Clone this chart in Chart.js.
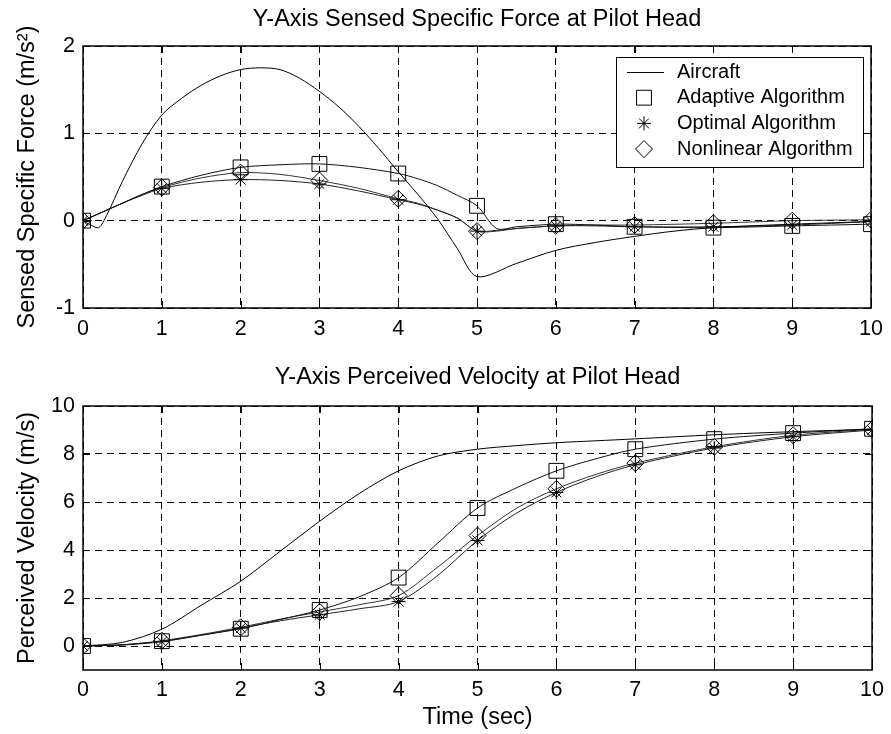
<!DOCTYPE html>
<html>
<head>
<meta charset="utf-8">
<title>Pilot Head</title>
<script src="https://cdn.jsdelivr.net/npm/chart.js@4.4.1/dist/chart.umd.min.js"></script>
<style>
  body { margin: 0; background: #fff; }
  canvas { display: block; }
</style>
</head>
<body>
<canvas id="fuerza" width="891" height="360"></canvas>
<canvas id="velocidad" width="891" height="374"></canvas>
<script>
// values
const etiquetas = ['Aircraft', 'Adaptive Algorithm', 'Optimal Algorithm', 'Nonlinear Algorithm'];
const ticksTiempo = [0, 1, 2, 3, 4, 5, 6, 7, 8, 9, 10];
const ticksFuerza = [-1, 0, 1, 2];
const ticksVelocidad = [0, 2, 4, 6, 8, 10];

// top plot: sensed specific force (m/s^2)
const tAvionFuerza = [0, 0.1, 0.2, 0.3, 0.5, 0.75, 1, 1.25, 1.5, 1.75, 2, 2.25, 2.5, 2.75, 3, 3.25, 3.5, 3.75, 4, 4.25, 4.5, 4.75, 5, 5.5, 6, 6.5, 7, 7.5, 8, 9, 10];
const avionFuerza = [0, -0.05, -0.08, 0.06, 0.45, 0.88, 1.21, 1.4, 1.55, 1.66, 1.73, 1.75, 1.73, 1.63, 1.48, 1.3, 1.08, 0.83, 0.56, 0.3, 0.02, -0.32, -0.64, -0.49, -0.34, -0.25, -0.18, -0.12, -0.08, -0.04, -0.01];
const tAlgFuerza = [0, 0.25, 0.5, 0.75, 1, 1.5, 2, 2.5, 3, 3.5, 4, 4.25, 4.5, 4.75, 5, 5.25, 5.5, 6, 6.5, 7, 8, 9, 10];
const adaptivoFuerza = [0, 0.1, 0.2, 0.3, 0.39, 0.52, 0.61, 0.64, 0.65, 0.61, 0.54, 0.48, 0.4, 0.29, 0.17, -0.09, -0.07, -0.04, -0.05, -0.07, -0.08, -0.06, -0.04];
const optimoFuerza = [0, 0.1, 0.2, 0.29, 0.37, 0.44, 0.47, 0.46, 0.42, 0.34, 0.24, 0.19, 0.12, 0.03, -0.12, -0.11, -0.09, -0.06, -0.06, -0.07, -0.07, -0.05, -0.01];
const nolinealFuerza = [0, 0.1, 0.2, 0.3, 0.38, 0.49, 0.55, 0.53, 0.46, 0.37, 0.25, 0.2, 0.12, 0.03, -0.12, -0.12, -0.09, -0.06, -0.05, -0.05, -0.03, 0.0, 0.01];

// bottom plot: perceived velocity (m/s)
const tVelocidad = [0, 0.5, 1, 1.5, 2, 2.5, 3, 3.5, 4, 4.5, 5, 5.5, 6, 6.5, 7, 8, 9, 10];
const avionVel = [0, 0.15, 0.7, 1.7, 2.7, 3.95, 5.2, 6.35, 7.3, 7.92, 8.2, 8.35, 8.47, 8.55, 8.63, 8.8, 8.93, 9.03];
const adaptivoVel = [0, 0.05, 0.2, 0.45, 0.72, 1.1, 1.5, 2.05, 2.85, 4.3, 5.75, 6.6, 7.3, 7.8, 8.2, 8.62, 8.87, 9.05];
const optimoVel = [0, 0.04, 0.18, 0.45, 0.75, 1.05, 1.3, 1.55, 1.85, 2.95, 4.4, 5.55, 6.4, 7.05, 7.55, 8.25, 8.72, 9.0];
const nolinealVel = [0, 0.05, 0.22, 0.48, 0.78, 1.12, 1.42, 1.72, 2.1, 3.3, 4.6, 5.75, 6.55, 7.15, 7.62, 8.3, 8.78, 9.03];

const fuente = '"Liberation Sans", Arial, sans-serif';
Chart.defaults.font.family = fuente;
Chart.defaults.color = '#000';

const estilos = [
  { pointStyle: 'circle', radio: 0, color: '#000' },
  { pointStyle: 'rect', radio: 10.5, color: '#111' },
  { pointStyle: 'star', radio: 7, color: '#222' },
  { pointStyle: 'rectRot', radio: 8.5, color: '#333' }
];

function serie(tiempos, valores) {
  return tiempos.map(function (t, i) {
    return { x: t, y: valores[i] };
  });
}

function armarDatasets(lista) {
  return lista.map(function (datos, i) {
    const e = estilos[i];
    return {
      label: etiquetas[i],
      data: datos,
      borderColor: e.color,
      borderWidth: 1,
      tension: 0.3,
      pointStyle: e.pointStyle,
      radioMarca: e.radio,
      pointRadius: function (c) {
        return Number.isInteger(c.raw.x) ? e.radio : 0;
      },
      pointBorderColor: '#000',
      pointBorderWidth: 1,
      pointBackgroundColor: 'rgba(0,0,0,0)'
    };
  });
}

// box round the axes and inward tick marks
const marco = {
  id: 'marco',
  afterDatasetsDraw(chart) {
    const ctx = chart.ctx;
    const a = chart.chartArea;
    const sx = chart.scales.x, sy = chart.scales.y;
    ctx.save();
    ctx.strokeStyle = '#000';
    ctx.lineWidth = 1;
    ctx.beginPath();
    sx.ticks.forEach(function (t) {
      const px = Math.round(sx.getPixelForValue(t.value)) + 0.5;
      ctx.moveTo(px, a.bottom); ctx.lineTo(px, a.bottom - 7);
      ctx.moveTo(px, a.top); ctx.lineTo(px, a.top + 7);
    });
    sy.ticks.forEach(function (t) {
      const py = Math.round(sy.getPixelForValue(t.value)) + 0.5;
      ctx.moveTo(a.left, py); ctx.lineTo(a.left + 7, py);
      ctx.moveTo(a.right, py); ctx.lineTo(a.right - 7, py);
    });
    ctx.stroke();
    ctx.lineWidth = 1.5;
    ctx.strokeRect(a.left, a.top, a.right - a.left, a.bottom - a.top);
    ctx.restore();
  }
};

// legend box in the top plot
const leyenda = {
  id: 'leyenda',
  afterDraw(chart) {
    const ctx = chart.ctx;
    ctx.save();
    ctx.fillStyle = '#fff';
    ctx.fillRect(616, 57, 247, 110);
    ctx.strokeStyle = '#000';
    ctx.lineWidth = 1;
    ctx.strokeRect(616.5, 57.5, 247, 110);
    ctx.font = '20px ' + fuente;
    ctx.textBaseline = 'middle';
    chart.data.datasets.forEach(function (ds, i) {
      const y = 72 + i * 25.7;
      ctx.strokeStyle = '#000';
      if (ds.radioMarca === 0) {
        ctx.beginPath();
        ctx.moveTo(627, Math.round(y) + 0.5);
        ctx.lineTo(664, Math.round(y) + 0.5);
        ctx.stroke();
      } else {
        ctx.fillStyle = 'rgba(0,0,0,0)';
        Chart.helpers.drawPoint(ctx, { pointStyle: ds.pointStyle, radius: ds.radioMarca, borderWidth: 1, rotation: 0 }, 644, y);
      }
      ctx.fillStyle = '#000';
      ctx.fillText(ds.label, 677, y);
    });
    ctx.restore();
  }
};

function graficar(id, titulo, padTitulo, tituloY, yMin, yMax, yTicks, datasets, altoX, tituloX, padTicksX, plugins) {
  const ctx = document.getElementById(id).getContext('2d');
  return new Chart(ctx, {
    type: 'line',
    data: { datasets: datasets },
    options: {
      responsive: false,
      animation: false,
      events: [],
      devicePixelRatio: 1,
      layout: { padding: { left: 0, right: 16, top: 0, bottom: 0 } },
      plugins: {
        legend: { display: false },
        tooltip: { enabled: false },
        title: { display: false }
      },
      scales: {
        // empty top axis only carries the plot title, centred over the axes
        arriba: {
          type: 'linear',
          position: 'top',
          min: 0,
          max: 10,
          afterFit: function (s) { s.height = 46; },
          ticks: { display: false },
          grid: { display: false },
          border: { display: false },
          title: {
            display: true,
            text: titulo,
            color: '#000',
            font: { size: 23.5 },
            padding: { top: padTitulo, bottom: 0 }
          }
        },
        x: {
          type: 'linear',
          min: 0,
          max: 10,
          afterBuildTicks: function (axis) {
            axis.ticks = ticksTiempo.map(function (v) { return { value: v }; });
          },
          afterFit: function (s) { s.height = altoX; },
          grid: { color: '#000', lineWidth: 1, drawTicks: false },
          border: { display: false, dash: [7, 5] },
          ticks: { font: { size: 21.5 }, padding: padTicksX, autoSkip: false, maxRotation: 0, color: '#000' },
          title: {
            display: !!tituloX,
            text: tituloX,
            color: '#000',
            font: { size: 23.5 },
            padding: { top: 0, bottom: 2 }
          }
        },
        y: {
          min: yMin,
          max: yMax,
          afterBuildTicks: function (axis) {
            axis.ticks = yTicks.map(function (v) { return { value: v }; });
          },
          afterFit: function (s) { s.width = 83; },
          grid: { color: '#000', lineWidth: 1, drawTicks: false },
          border: { display: false, dash: [7, 5] },
          ticks: { font: { size: 21.5 }, padding: 8, color: '#000' },
          title: {
            display: true,
            text: tituloY,
            color: '#000',
            font: { size: 23.5 },
            padding: { top: 13, bottom: 0 }
          }
        }
      }
    },
    plugins: plugins
  });
}

graficar('fuerza', 'Y-Axis Sensed Specific Force at Pilot Head', 5,
  'Sensed Specific Force (m/s\u00B2)', -1, 2, ticksFuerza,
  armarDatasets([
    serie(tAvionFuerza, avionFuerza),
    serie(tAlgFuerza, adaptivoFuerza),
    serie(tAlgFuerza, optimoFuerza),
    serie(tAlgFuerza, nolinealFuerza)
  ]), 52, '', 8, [marco, leyenda]);

graficar('velocidad', 'Y-Axis Perceived Velocity at Pilot Head', 3,
  'Perceived Velocity (m/s)', -1, 10, ticksVelocidad,
  armarDatasets([
    serie(tVelocidad, avionVel),
    serie(tVelocidad, adaptivoVel),
    serie(tVelocidad, optimoVel),
    serie(tVelocidad, nolinealVel)
  ]), 64, 'Time (sec)', 7, [marco]);
</script>
</body>
</html>
